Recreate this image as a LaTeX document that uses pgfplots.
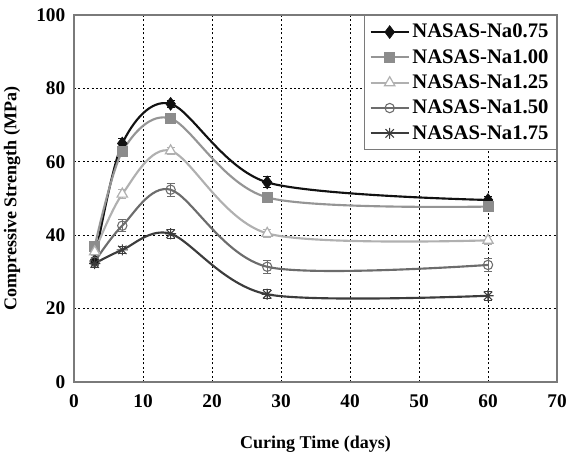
\documentclass[border=0pt]{standalone}
\usepackage{fontspec}
\setmainfont{Liberation Serif}
\usepackage{pgfplots}
\pgfplotsset{compat=1.18}
\usetikzlibrary{calc}
\definecolor{cA}{HTML}{111111}
\definecolor{cB}{HTML}{959595}
\definecolor{cBf}{HTML}{8C8C8C}
\definecolor{cC}{HTML}{B0B0B0}
\definecolor{cD}{HTML}{6C6C6C}
\definecolor{cE}{HTML}{3C3C3C}
\definecolor{axgray}{HTML}{7A7A7A}
\pgfdeclareplotmark{eightstar}{%
  \pgfpathmoveto{\pgfqpoint{0pt}{\pgfplotmarksize}}\pgfpathlineto{\pgfqpoint{0pt}{-\pgfplotmarksize}}%
  \pgfpathmoveto{\pgfqpoint{\pgfplotmarksize}{0pt}}\pgfpathlineto{\pgfqpoint{-\pgfplotmarksize}{0pt}}%
  \pgfpathmoveto{\pgfqpoint{0.75\pgfplotmarksize}{0.75\pgfplotmarksize}}\pgfpathlineto{\pgfqpoint{-0.75\pgfplotmarksize}{-0.75\pgfplotmarksize}}%
  \pgfpathmoveto{\pgfqpoint{-0.75\pgfplotmarksize}{0.75\pgfplotmarksize}}\pgfpathlineto{\pgfqpoint{0.75\pgfplotmarksize}{-0.75\pgfplotmarksize}}%
  \pgfusepathqstroke}
\begin{document}
\begin{tikzpicture}
\begin{axis}[
  scale only axis,
  width=362.25pt, height=275.25pt,
  xmin=0, xmax=70, ymin=0, ymax=100,
  xtick={0,10,...,70}, ytick={0,20,...,100},
  major tick length=0pt,
  grid=major,
  major grid style={black, line width=0.6pt, dash pattern=on 1.5pt off 1.8pt},
  axis line style={axgray, line width=1.5pt},
  /pgf/number format/assume math mode=true,
  tick label style={font=\fontsize{14.5}{16}\selectfont\bfseries},
  xticklabel style={yshift=-6pt},
  yticklabel style={xshift=-3pt},
  label style={font=\fontsize{13.5}{16}\selectfont\bfseries},
  xlabel={Curing Time (days)},
  ylabel={Compressive Strength (MPa)},
  xlabel style={yshift=-14pt},
  ylabel style={yshift=5pt},
  legend style={at={(1,1)}, anchor=north east, draw=axgray, line width=0.8pt,
    font=\fontsize{15.5}{17}\selectfont\bfseries, fill=white,
    inner xsep=4pt, inner ysep=4.5pt, row sep=3.2pt, legend cell align=left},
  legend image code/.code={%
    \draw[mark repeat=2,mark phase=2] plot coordinates {(0cm,0cm) (0.5cm,0cm) (1.0cm,0cm)};},
  every axis plot/.append style={smooth, tension=0.5, line width=1.6pt},
  error bars/y dir=both, error bars/y explicit,
  error bars/error bar style={line width=0.7pt},
  error bars/error mark options={rotate=90, mark size=3pt, line width=0.7pt},
]
\addplot[color=cA, mark=diamond*, mark size=4.8pt, mark options={fill=cA, draw=cA, line width=0.5pt}]
  coordinates {(3,33.0) +- (0,1) (7,65.0) +- (0,1.3) (14,75.8) +- (0,1.0) (28,54.4) +- (0,1.5) (60,49.6) +- (0,1.0)};
\addlegendentry{NASAS-Na0.75}
\addplot[color=cB, mark=square*, mark size=3.7pt, mark options={fill=cBf, draw=cBf, line width=0.5pt}]
  coordinates {(3,36.9) +- (0,1) (7,62.8) +- (0,1.2) (14,71.8) +- (0,1.0) (28,50.3) +- (0,1.0) (60,47.8) +- (0,1.0)};
\addlegendentry{NASAS-Na1.00}
\addplot[color=cC, mark=triangle*, mark size=4.5pt, mark options={fill=white, draw=cC, line width=0.9pt}]
  coordinates {(3,35.5) +- (0,1) (7,51.2) +- (0,1.2) (14,63.0) +- (0,1.0) (28,40.5) +- (0,1.2) (60,38.6) +- (0,1.0)};
\addlegendentry{NASAS-Na1.25}
\addplot[color=cD, mark=o, mark size=3.5pt, mark options={fill=white, draw=cD, line width=0.8pt}]
  coordinates {(3,32.8) +- (0,1) (7,42.6) +- (0,1.6) (14,52.4) +- (0,1.8) (28,31.4) +- (0,1.8) (60,31.9) +- (0,1.8)};
\addlegendentry{NASAS-Na1.50}
\addplot[color=cE, mark=eightstar, mark size=4.2pt, mark options={draw=cE, line width=0.8pt}]
  coordinates {(3,32.3) +- (0,1.2) (7,36.0) +- (0,1.0) (14,40.4) +- (0,1.2) (28,23.9) +- (0,1.2) (60,23.5) +- (0,1.2)};
\addlegendentry{NASAS-Na1.75}
\end{axis}
\pgfresetboundingbox
\path[use as bounding box] ($(current axis.south west)+(-55.5pt,-51.75pt)$) rectangle ($(current axis.north east)+(7.5pt,11.25pt)$);
\end{tikzpicture}
\end{document}
